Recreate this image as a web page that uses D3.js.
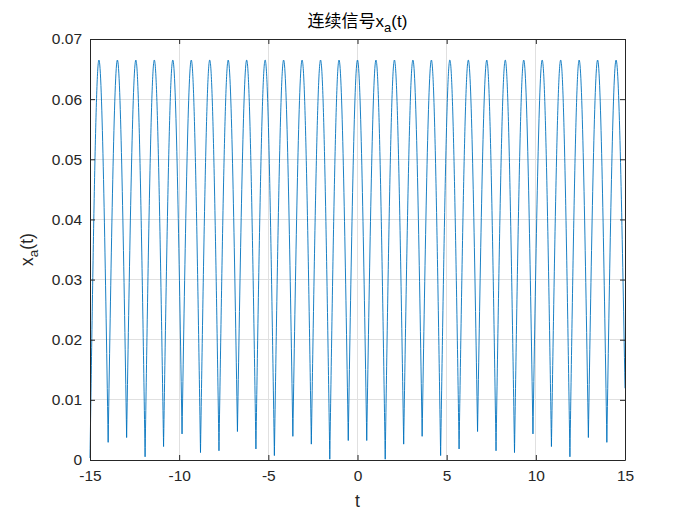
<!DOCTYPE html>
<html><head><meta charset="utf-8">
<script src="https://cdn.jsdelivr.net/npm/d3@7"></script>
<style>body{margin:0;background:#fff}svg{display:block}</style>
</head><body>
<svg id="chart" width="692" height="519"></svg>
<script>
const xTicks = [-15, -10, -5, 0, 5, 10, 15];
const xTickLabels = ["-15", "-10", "-5", "0", "5", "10", "15"];
const yTicks = [0, 0.01, 0.02, 0.03, 0.04, 0.05, 0.06, 0.07];
const yTickLabels = ["0", "0.01", "0.02", "0.03", "0.04", "0.05", "0.06", "0.07"];

// peaks of the signal (time, value)
const peakT = [-14.5, -13.464, -12.429, -11.393, -10.357, -9.321, -8.286, -7.25, -6.214, -5.179,
  -4.143, -3.107, -2.071, -1.036, 0, 1.036, 2.071, 3.107, 4.143, 5.179,
  6.214, 7.25, 8.286, 9.321, 10.357, 11.393, 12.429, 13.464, 14.5];
const peakV = [0.0665, 0.0665, 0.0665, 0.0665, 0.0665, 0.0665, 0.0665, 0.0665, 0.0665, 0.0665,
  0.0665, 0.0665, 0.0665, 0.0665, 0.0665, 0.0665, 0.0665, 0.0665, 0.0665, 0.0665,
  0.0665, 0.0665, 0.0665, 0.0665, 0.0665, 0.0665, 0.0665, 0.0665, 0.0665];
// troughs (including the two end samples)
const troughT = [-15, -13.982, -12.946, -11.911, -10.875, -9.839, -8.804, -7.768, -6.732, -5.696,
  -4.661, -3.625, -2.589, -1.554, -0.518, 0.518, 1.554, 2.589, 3.625, 4.661,
  5.696, 6.732, 7.768, 8.804, 9.839, 10.875, 11.911, 12.946, 13.982, 15];
const troughV = [0.0004, 0.0030, 0.0038, 0.0006, 0.0023, 0.0044, 0.0013, 0.0016, 0.0048, 0.0019,
  0.0008, 0.0040, 0.0027, 0.0002, 0.0033, 0.0033, 0.0002, 0.0027, 0.0040, 0.0008,
  0.0019, 0.0048, 0.0016, 0.0013, 0.0044, 0.0023, 0.0006, 0.0038, 0.0030, 0.0120];

const W = 692, H = 519;
const m = {left: 90, right: 67, top: 39, bottom: 59};
const svg = d3.select("#chart");
const x = d3.scaleLinear().domain([-15, 15]).range([m.left, W - m.right]);
const y = d3.scaleLinear().domain([0, 0.07]).range([H - m.bottom, m.top]);
const axisColor = "#262626";
const font = "'Liberation Sans', Arial, 'Noto Sans CJK SC', sans-serif";

// grid
const grid = svg.append("g");
grid.selectAll(".gx").data(xTicks).join("line")
  .attr("x1", d => x(d)).attr("x2", d => x(d)).attr("y1", y(0)).attr("y2", y(0.07))
  .attr("stroke", "#e0e0e0").attr("stroke-width", 1).attr("shape-rendering", "crispEdges");
grid.selectAll(".gy").data(yTicks).join("line")
  .attr("y1", d => y(d)).attr("y2", d => y(d)).attr("x1", x(-15)).attr("x2", x(15))
  .attr("stroke", "#e0e0e0").attr("stroke-width", 1).attr("shape-rendering", "crispEdges");

// signal
const arch = d3.line().x(d => x(d[0])).y(d => y(d[1])).curve(d3.curveMonotoneX);
let pathStr = "";
for (let i = 0; i < peakT.length; i++) {
  pathStr += arch([[troughT[i], troughV[i]], [peakT[i], peakV[i]], [troughT[i + 1], troughV[i + 1]]]);
}
svg.append("path").attr("d", pathStr).attr("fill", "none")
  .attr("stroke", "#0072BD").attr("stroke-width", 0.9).attr("stroke-linecap", "round");

// axes with MATLAB-like inward ticks on all four sides
const tl = 5;
const fmtX = (d, i) => xTickLabels[i];
const fmtY = (d, i) => yTickLabels[i];
const gBottom = svg.append("g").attr("transform", `translate(0,${y(0)})`)
  .call(d3.axisBottom(x).tickValues(xTicks).tickFormat(fmtX).tickSizeInner(-tl).tickSizeOuter(0).tickPadding(10));
const gTop = svg.append("g").attr("transform", `translate(0,${y(0.07)})`)
  .call(d3.axisTop(x).tickValues(xTicks).tickFormat("").tickSizeInner(-tl).tickSizeOuter(0));
const gLeft = svg.append("g").attr("transform", `translate(${x(-15)},0)`)
  .call(d3.axisLeft(y).tickValues(yTicks).tickFormat(fmtY).tickSizeInner(-tl).tickSizeOuter(0).tickPadding(8));
const gRight = svg.append("g").attr("transform", `translate(${x(15)},0)`)
  .call(d3.axisRight(y).tickValues(yTicks).tickFormat("").tickSizeInner(-tl).tickSizeOuter(0));
[gBottom, gTop, gLeft, gRight].forEach(g => {
  g.selectAll("path.domain").attr("stroke", axisColor).attr("stroke-width", 1);
  g.selectAll(".tick line").attr("stroke", axisColor).attr("stroke-width", 1);
  g.selectAll(".tick text").attr("fill", axisColor).style("font-family", font).style("font-size", "15.5px");
});
gBottom.selectAll(".tick text").attr("dy", "0.71em");

// title
const title = svg.append("text").attr("x", (x(-15) + x(15)) / 2).attr("y", 27)
  .attr("text-anchor", "middle").attr("fill", "#000").style("font-family", font).style("font-size", "17px");
title.append("tspan").text("连续信号x");
title.append("tspan").attr("dy", 5).style("font-size", "13px").text("a");
title.append("tspan").attr("dy", -5).text("(t)");

// x label
svg.append("text").attr("x", (x(-15) + x(15)) / 2).attr("y", 507).attr("text-anchor", "middle")
  .attr("fill", axisColor).style("font-family", font).style("font-size", "17.5px").text("t");

// y label
const yl = svg.append("text").attr("transform", `translate(33,${(y(0) + y(0.07)) / 2}) rotate(-90)`)
  .attr("text-anchor", "middle").attr("fill", axisColor).style("font-family", font).style("font-size", "17.5px");
yl.append("tspan").text("x");
yl.append("tspan").attr("dy", 5).style("font-size", "13.5px").text("a");
yl.append("tspan").attr("dy", -5).text("(t)");
</script>
</body></html>
